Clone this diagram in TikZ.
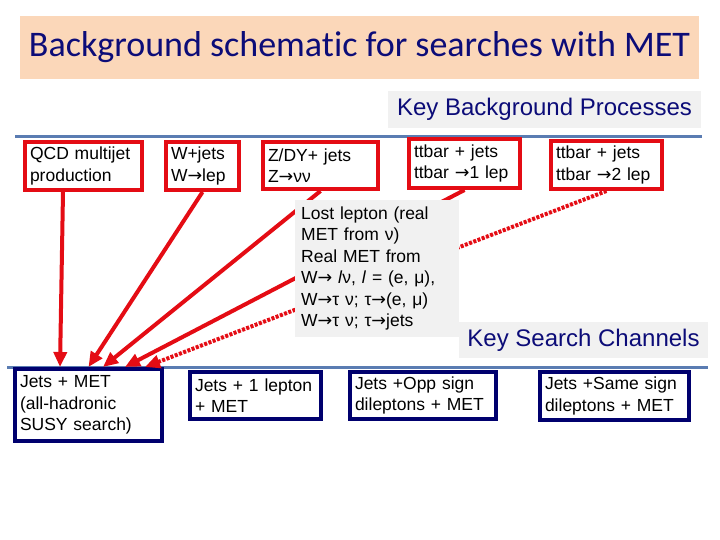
\documentclass[tikz,border=0pt]{standalone}
\usepackage{fontspec}
\setmainfont{Liberation Sans}
\newfontfamily\titlefont[Ligatures=NoCommon]{Carlito}
\newfontfamily\arrowfont{DejaVu Sans}
\usepackage{xcolor}
\usepackage{tikz}
\usetikzlibrary{arrows.meta}
\definecolor{bgred}{RGB}{228,12,20}
\definecolor{srnavy}{RGB}{0,0,110}
\definecolor{keynavy}{RGB}{12,12,120}
\definecolor{keygrey}{RGB}{241,241,241}
\definecolor{titlepeach}{RGB}{251,215,185}
\definecolor{rulblue}{RGB}{90,124,178}
\newcommand{\ra}{{\arrowfont →}}

\begin{document}
\begin{tikzpicture}[
  x=1pt, y=-1pt,
  font=\fontsize{17.5}{21.5}\selectfont,
  box/.style={draw, line width=4pt, fill=white, anchor=north west, align=left,
    inner xsep=5pt, inner ysep=3pt},
  bg/.style={box, draw=bgred},
  srch/.style={box, draw=srnavy},
  key/.style={fill=keygrey, text=keynavy, inner sep=0pt, font=\fontsize{24}{28}\selectfont},
  rule/.style={draw=rulblue, line width=3pt},
  ar/.style={-{Triangle[length=15pt, width=13pt]}, draw=bgred, fill=bgred, line width=4pt},
  mr/.style={ar, dash pattern=on 3pt off 1.5pt}
]
\useasboundingbox (0,0) rectangle (720,540);
% ---- headings ---------------------------------------------------------------
\node[fill=titlepeach, text=keynavy, minimum width=679pt, minimum height=63pt,
  font=\titlefont\fontsize{36}{40}\selectfont] (title) at (359.5,47.5)
  {Background schematic for searches with MET};
\node[key, minimum width=313pt, minimum height=37pt] (keybg) at (544.5,109.5)
  {Key Background Processes};

\draw[rule] (15,137) -- (702,137);
\draw[rule] (7,367) -- (708,367);

% ---- background processes ---------------------------------------------------
\node[bg, text width=107pt, minimum height=48pt] (qcd) at (23,140)
  {QCD multijet\\ production};
\node[bg, text width=63pt, minimum height=48pt] (wjet) at (164,140)
  {W+jets\\ W\ra lep};
\node[bg, text width=105pt, minimum height=47pt] (zdy) at (261,140)
  {Z/DY+ jets\\ Z\ra νν};
\node[bg, text width=101pt, minimum height=49pt] (tt1) at (407,137)
  {ttbar + jets\\ ttbar \ra 1 lep};
\node[bg, text width=101pt, minimum height=48pt] (tt2) at (549,139)
  {ttbar + jets\\ ttbar \ra 2 lep};

% ---- search channels --------------------------------------------------------
\node[srch, text width=137pt, minimum height=72pt] (jmet) at (13,367)
  {Jets + MET\\ (all-hadronic\\ SUSY search)};
\node[srch, text width=121pt, minimum height=47pt] (j1l) at (188,370)
  {Jets + 1 lepton\\ + MET};
\node[srch, text width=136pt, minimum height=47pt] (jos) at (348,370)
  {Jets +Opp sign\\ dileptons + MET};
\node[srch, text width=139pt, minimum height=48pt] (jss) at (538,370)
  {Jets +Same sign\\ dileptons + MET};

% ---- edges ------------------------------------------------------------------
\draw[ar] ([xshift=-20.5pt]qcd.south) -- ([xshift=-28.5pt]jmet.north);
\draw[ar] (wjet.south) -- (jmet.north);
\draw[ar] (zdy.south) -- ([xshift=14.5pt]jmet.north);
\draw[ar] (tt1.south) -- ([xshift=36.5pt]jmet.north);
\draw[mr] (tt2.south) -- ([xshift=56.5pt]jmet.north);

% ---- notes on top -----------------------------------------------------------
\node[fill=keygrey, anchor=north west, align=left, text width=152pt, inner xsep=6pt,
  inner ysep=2pt, minimum height=137pt, font=\fontsize{17.5}{21.5}\selectfont] (lost) at (295,200)
  {Lost lepton (real\\ MET from ν)\\ Real MET from\\
   W\ra\ \textit{l}ν, \textit{l} = (e, μ),\\ W\ra τ ν; τ\ra(e, μ)\\ W\ra τ ν; τ\ra jets};
\node[key, minimum width=249pt, minimum height=36pt] (keysc) at (583.5,340)
  {Key Search Channels};
\end{tikzpicture}
\end{document}
